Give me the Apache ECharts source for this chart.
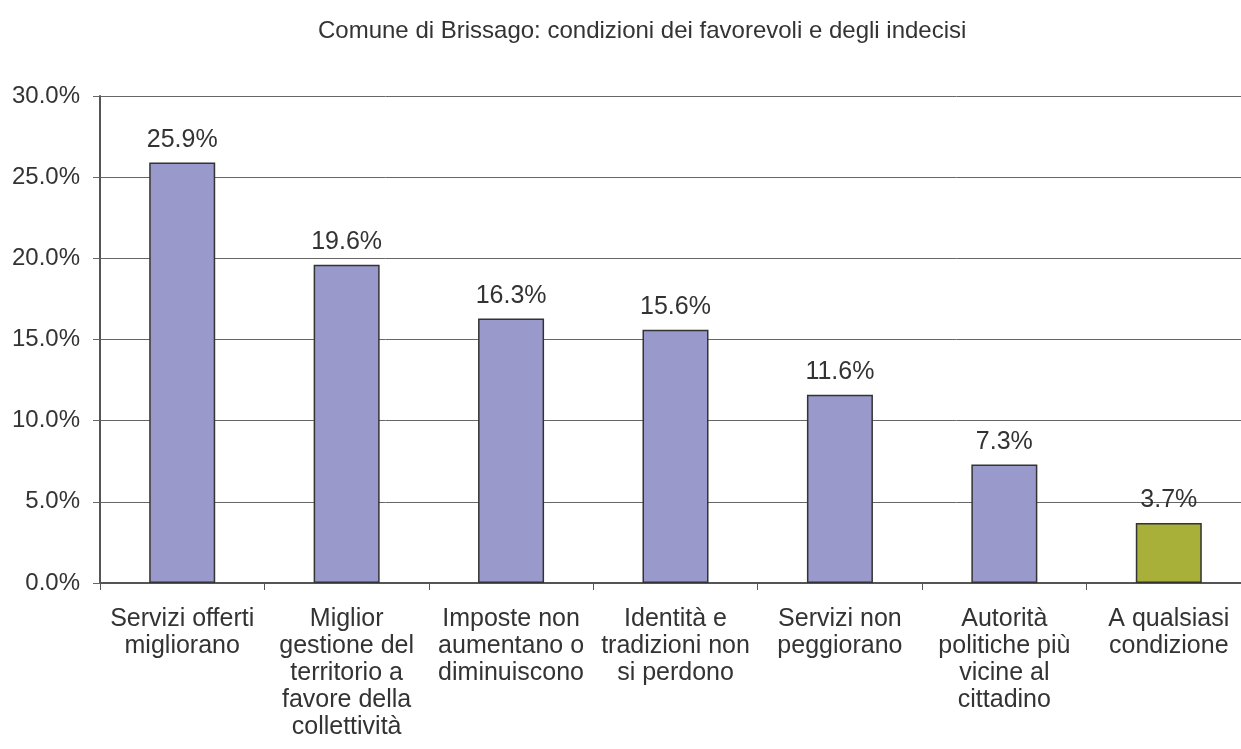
<!DOCTYPE html>
<html>
<head>
<meta charset="utf-8">
<style>
  html, body { margin: 0; padding: 0; width: 100%; height: 100%; overflow: hidden; background: #fff; }
  #chart { width: 1241px; height: 749px; }
</style>
</head>
<body>
<div id="chart"></div>
<script src="https://cdn.jsdelivr.net/npm/echarts@6/dist/echarts.min.js"></script>
<script>
  const categories = [
    "Servizi offerti\nmigliorano",
    "Miglior\ngestione del\nterritorio a\nfavore della\ncollettività",
    "Imposte non\naumentano o\ndiminuiscono",
    "Identità e\ntradizioni non\nsi perdono",
    "Servizi non\npeggiorano",
    "Autorità\npolitiche più\nvicine al\ncittadino",
    "A qualsiasi\ncondizione"
  ];
  const values = [25.9, 19.6, 16.3, 15.6, 11.6, 7.3, 3.7];
  const barColors = ["#9999cc", "#9999cc", "#9999cc", "#9999cc", "#9999cc", "#9999cc", "#a8b03a"];

  const font = "Liberation Sans, Arial, sans-serif";
  const chart = echarts.init(document.getElementById("chart"));

  // plot area runs a bit past the right edge, like the original export
  chart.setOption({
    animation: false,
    title: {
      text: "Comune di Brissago: condizioni dei favorevoli e degli indecisi",
      left: 313,
      top: 14,
      textStyle: { fontFamily: font, fontSize: 24, fontWeight: "normal", color: "#333" }
    },
    grid: { left: 100, right: -10, top: 96, bottom: 166, containLabel: false, outerBoundsMode: "none" },
    xAxis: {
      type: "category",
      data: categories,
      axisLine: { lineStyle: { color: "#555", width: 2 } },
      axisTick: { show: true, length: 7, lineStyle: { color: "#555" } },
      axisLabel: {
        fontFamily: font, fontSize: 25, color: "#333", lineHeight: 27,
        margin: 23, interval: 0
      }
    },
    yAxis: {
      type: "value",
      min: 0, max: 30, interval: 5,
      axisLine: { show: true, lineStyle: { color: "#555", width: 2 } },
      axisTick: { show: true, length: 7, lineStyle: { color: "#666" } },
      splitLine: { lineStyle: { color: "#666", width: 1 } },
      axisLabel: {
        fontFamily: font, fontSize: 24, color: "#333", margin: 20,
        formatter: (v) => v.toFixed(1) + "%"
      }
    },
    series: [{
      type: "bar",
      barWidth: 66,
      data: values.map((v, i) => ({
        value: v,
        itemStyle: { color: barColors[i], borderColor: "#333", borderWidth: 1.5 }
      })),
      label: {
        show: true, position: "top", distance: 10,
        fontFamily: font, fontSize: 25, color: "#333",
        formatter: (p) => p.value.toFixed(1) + "%"
      }
    }]
  });
</script>
</body>
</html>
